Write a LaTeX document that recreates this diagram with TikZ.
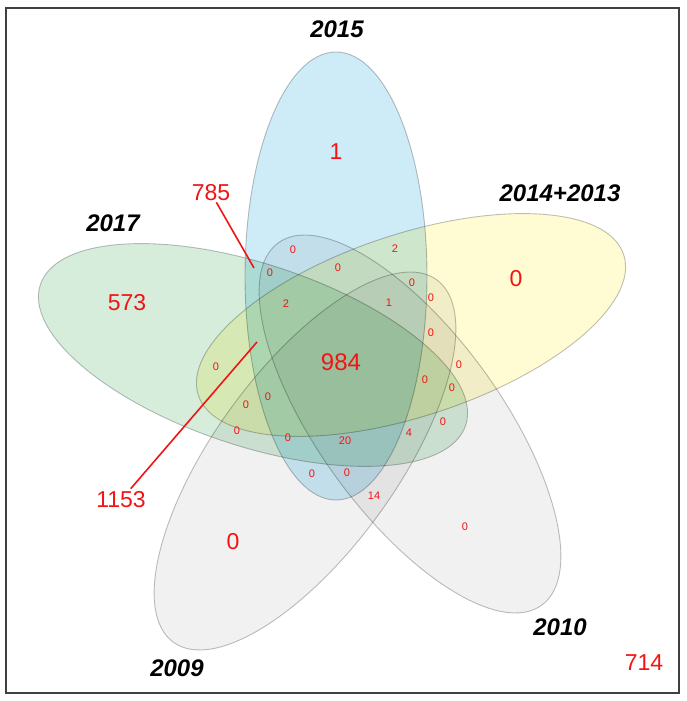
\documentclass[tikz,border=0pt]{standalone}
\usepackage{fontspec}
\setmainfont{Liberation Sans}
\definecolor{blueset}{RGB}{206,235,248}
\definecolor{yellowset}{RGB}{255,251,210}
\definecolor{greenset}{RGB}{214,237,220}
\definecolor{grayset}{RGB}{241,241,241}
\definecolor{edgegray}{RGB}{150,150,150}
\definecolor{numred}{RGB}{240,20,20}
\tikzset{
  setshape/.style={draw=edgegray, draw opacity=0.6, line width=0.9pt},
  bignum/.style={text=numred, font=\fontsize{23}{23}\selectfont, inner sep=1pt},
  smallnum/.style={text=numred, font=\fontsize{11}{11}\selectfont, inner sep=0.5pt},
  setlabel/.style={font=\fontsize{24}{24}\selectfont\bfseries\itshape, inner sep=1pt},
  leader/.style={draw=numred, line width=1.6pt},
  frameline/.style={draw=black!75, line width=1.2pt}
}
\begin{document}
\begin{tikzpicture}[x=1pt,y=1pt]
\useasboundingbox (0,0) rectangle (686,701);
\fill[white] (0,0) rectangle (686,701);
\draw[frameline] (6,8) rectangle (679,693);

% sets
\begin{scope}[blend group=multiply]
\draw[setshape, fill=grayset, rotate around={54:(305,240)}] (305,240) ellipse [x radius=224, y radius=91];
\draw[setshape, fill=grayset, rotate around={-54:(410,277)}] (410,277) ellipse [x radius=224, y radius=91];
\draw[setshape, fill=blueset] (336,425) ellipse [x radius=91, y radius=224];
\draw[setshape, fill=yellowset, rotate around={18.3:(411,376)}] (411,376) ellipse [x radius=224, y radius=91];
\draw[setshape, fill=greenset, rotate around={-18.3:(253,346)}] (253,346) ellipse [x radius=224, y radius=91];
\end{scope}

% set labels
\node[setlabel] (l2015) at (337,672) {2015};
\node[setlabel] (l2014) at (560,508) {2014+2013};
\node[setlabel] (l2017) at (113,478) {2017};
\node[setlabel] (l2009) at (177,33) {2009};
\node[setlabel] (l2010) at (560,74) {2010};

% large numbers
\node[bignum] (n1) at (336,549) {1};
\node[bignum] (n785) at (211,508) {785};
\node[bignum] (n573) at (127,398) {573};
\node[bignum] (nyel) at (516,422) {0};
\node[bignum, font=\fontsize{24}{24}\selectfont] (n984) at (341,339) {984};
\node[bignum, inner sep=3pt] (n1153) at (121,201) {1153};
\node[bignum] (n09) at (233,159) {0};
\node[bignum] (n714) at (644,38) {714};
\node[smallnum] (n10) at (465,174) {0};

% leaders
\coordinate (p785) at (254,433);
\coordinate (p1153) at (257,359);
\draw[leader] (n785) -- (p785);
\draw[leader] (n1153) -- (p1153);

% small numbers
\node[smallnum] (s1) at (293,451) {0};
\node[smallnum] (s2) at (395,452) {2};
\node[smallnum] (s3) at (270,428) {0};
\node[smallnum] (s4) at (338,433) {0};
\node[smallnum] (s5) at (412,418) {0};
\node[smallnum] (s6) at (431,403) {0};
\node[smallnum] (s7) at (286,397) {2};
\node[smallnum] (s8) at (389,398) {1};
\node[smallnum] (s9) at (431,368) {0};
\node[smallnum] (s10) at (216,334) {0};
\node[smallnum] (s11) at (459,336) {0};
\node[smallnum] (s12) at (425,321) {0};
\node[smallnum] (s13) at (452,313) {0};
\node[smallnum] (s14) at (268,304) {0};
\node[smallnum] (s15) at (246,296) {0};
\node[smallnum] (s16) at (443,279) {0};
\node[smallnum] (s17) at (409,268) {4};
\node[smallnum] (s18) at (237,270) {0};
\node[smallnum] (s19) at (288,263) {0};
\node[smallnum] (s20) at (345,260) {20};
\node[smallnum] (s21) at (312,227) {0};
\node[smallnum] (s22) at (347,228) {0};
\node[smallnum] (s23) at (374,205) {14};
\end{tikzpicture}
\end{document}
